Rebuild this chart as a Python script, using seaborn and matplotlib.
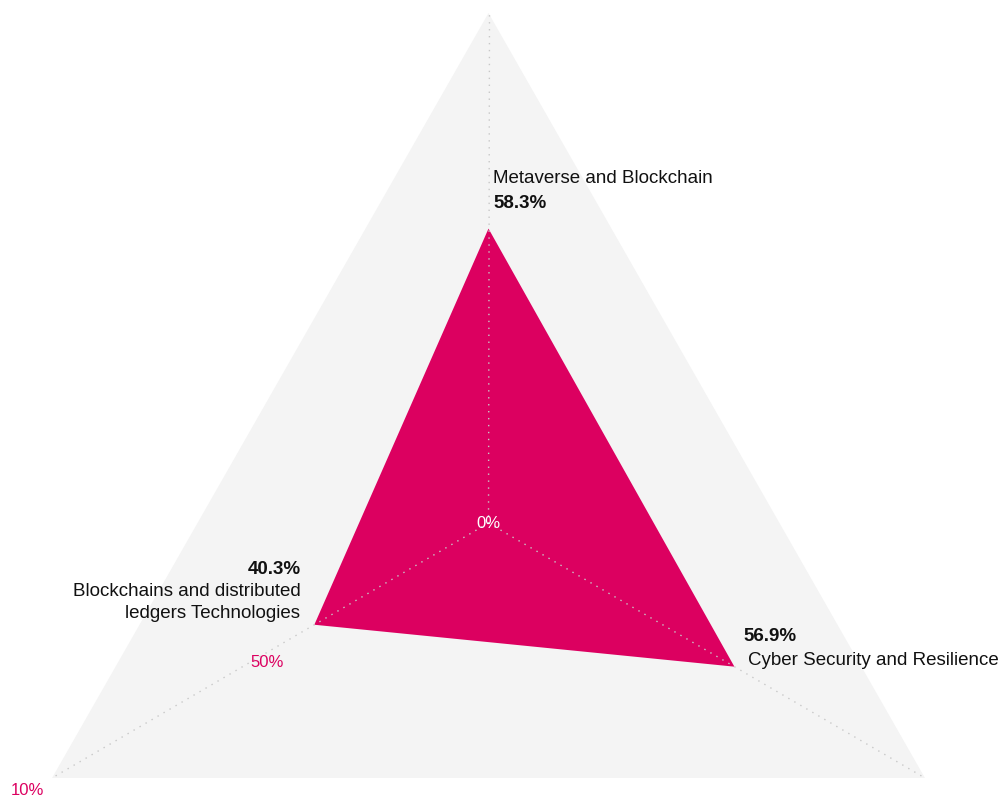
import numpy as np
import matplotlib
matplotlib.use("Agg")
import matplotlib.pyplot as plt
import seaborn as sns

# ── data ─────────────────────────────────────────────────────────────────────
categories = ["Metaverse and Blockchain",
              "Cyber Security and Resilience",
              "Blockchains and distributed\nledgers Technologies"]
values = [58.3, 56.9, 40.3]
value_labels = ["58.3%", "56.9%", "40.3%"]
tick_values = [0, 50, 100]
tick_labels = ["0%", "50%", "10%"]

R_MAX = 101.0
PINK = "#dc0060"
BG = "#f4f4f4"

sns.set_theme(style="white")
plt.rcParams["font.family"] = ["Liberation Sans", "DejaVu Sans"]

# axes clockwise from the top
angles = np.deg2rad([90, -30, 210])


def to_xy(r, a):
    return r / R_MAX * np.cos(a), r / R_MAX * np.sin(a)


fig = plt.figure(figsize=(9.99, 7.99), dpi=100)
ax = fig.add_axes([0, 0, 1, 1])
# pixel-ish frame: centre at (488.5, 523) from top, radius 504 x / 510 y
ax.set_xlim(-488.5 / 504, (999 - 488.5) / 504)
ax.set_ylim(-276 / 510, 523 / 510)
ax.axis("off")

# grey triangle background
bx, by = to_xy(np.full(3, R_MAX), angles)
ax.fill(bx, by, color=BG, zorder=1, lw=0)

# data polygon
px, py = to_xy(np.array(values), angles)
ax.fill(px, py, color=PINK, zorder=2, lw=0)

# dotted spokes
for a in angles:
    sx, sy = to_xy(np.array([0, R_MAX]), a)
    ax.plot(sx, sy, color="#c8c8c8", lw=1, ls=(0, (1, 4)), zorder=3)

# category + value labels
name_off = [(5, 50), (14, 6), (-14, 22)]
val_off = [(5, 25), (9, 30), (-13, 55)]
name_ha = ["left", "left", "right"]
for i in range(3):
    ax.annotate(categories[i], (px[i], py[i]), xytext=name_off[i],
                textcoords="offset pixels", ha=name_ha[i], va="center",
                fontsize=13.5, color="#111111", multialignment="right",
                linespacing=1.35, zorder=5)
    ax.annotate(value_labels[i], (px[i], py[i]), xytext=val_off[i],
                textcoords="offset pixels", ha=name_ha[i], va="center",
                fontsize=13.5, fontweight="bold", color="#111111", zorder=5)

# radial tick labels on the lower-left spoke
tick_off = [(0, 0), (-5, -13), (-29, -15)]
tick_col = ["white", PINK, PINK]
for t, lab, off, c in zip(tick_values, tick_labels, tick_off, tick_col):
    tx, ty = to_xy(t, angles[2])
    ax.annotate(lab, (tx, ty), xytext=off, textcoords="offset pixels",
                ha="center", va="center", fontsize=12, color=c, zorder=5)

fig.savefig("out.png", dpi=100)
